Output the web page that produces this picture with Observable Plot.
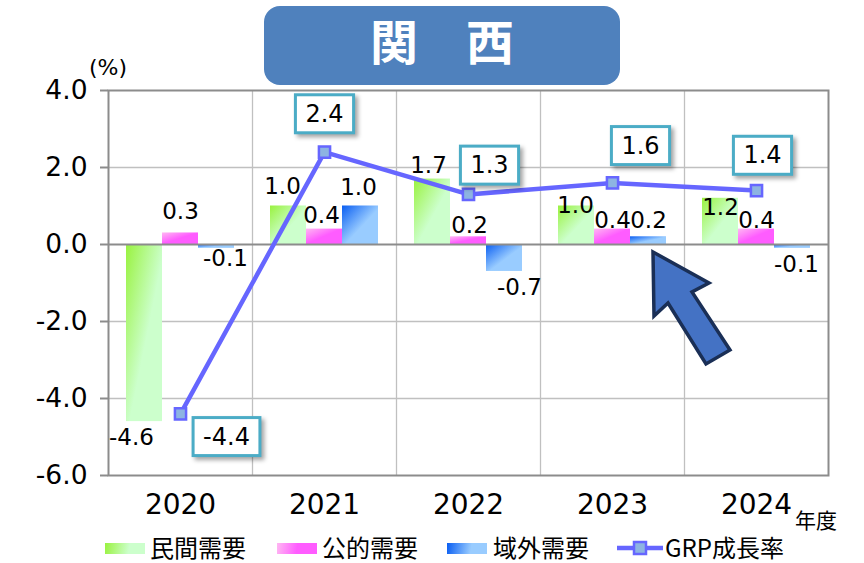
<!DOCTYPE html>
<html><head><meta charset="utf-8">
<script src="https://cdn.jsdelivr.net/npm/d3@7"></script>
<script src="https://cdn.jsdelivr.net/npm/@observablehq/plot@0.6"></script>
<style>
html,body{margin:0;background:#fff;overflow:hidden;}
#wrap{position:relative;width:864px;height:563px;font-family:"DejaVu Sans",sans-serif;color:#000;}
#chart{position:absolute;left:0;top:0;}
#title{position:absolute;left:264px;top:6px;width:356px;height:79px;border-radius:16px;background:#4f81bd;color:#fff;
 font-family:"Noto Sans CJK JP",sans-serif;font-weight:700;font-size:48px;line-height:66px;text-align:center;}
#unit{position:absolute;left:89px;top:54px;font-size:22px;line-height:28px;}
#nendo{position:absolute;left:795px;top:504px;font-size:21px;line-height:30px;font-family:"Noto Sans CJK JP",sans-serif;}
#legend{position:absolute;left:0;top:531px;width:864px;height:32px;}
.lg{position:absolute;top:0;font-size:24px;line-height:32px;font-family:"Noto Sans CJK JP",sans-serif;white-space:nowrap;}
.sw{position:absolute;top:12px;height:11px;width:40px;}
#arrow{position:absolute;left:0;top:0;pointer-events:none;}
</style></head><body>
<svg width="0" height="0" style="position:absolute">
 <defs>
  <linearGradient id="grad0" x1="0" y1="0" x2="1" y2="1">
   <stop offset="0" stop-color="#99f23f"/><stop offset="0.55" stop-color="#ccffcc"/><stop offset="1" stop-color="#ccffcc"/>
  </linearGradient>
  <linearGradient id="grad1" x1="0" y1="0" x2="1" y2="1">
   <stop offset="0" stop-color="#ffb8f2"/><stop offset="0.5" stop-color="#ff5cff"/><stop offset="1" stop-color="#ff5cff"/>
  </linearGradient>
  <linearGradient id="grad2" x1="0" y1="0" x2="1" y2="1">
   <stop offset="0" stop-color="#0a5ef2"/><stop offset="0.55" stop-color="#99ccff"/><stop offset="1" stop-color="#99ccff"/>
  </linearGradient>
 </defs>
</svg>
<div id="wrap">
 <div id="chart"></div>
 <div id="title">関　西</div>
 <div id="unit">(%)</div>
 <div id="nendo">年度</div>
 <div id="legend"></div>
 <svg id="arrow" width="864" height="563">
  <polygon points="653,252 709,283 692,292 730,350 706,364 668,303 654,316" fill="#4472c4" stroke="#1a2f56" stroke-width="3.5" stroke-linejoin="miter"/>
 </svg>
</div>
<script>
// ---- data ----
const years = ["2020", "2021", "2022", "2023", "2024"];
const seriesNames = ["民間需要", "公的需要", "域外需要"];
const privateDemand = [-4.6, 1.0, 1.7, 1.0, 1.2];
const publicDemand = [0.3, 0.4, 0.2, 0.4, 0.4];
const externalDemand = [-0.1, 1.0, -0.7, 0.2, -0.1];
const grpGrowth = [-4.4, 2.4, 1.3, 1.6, 1.4];
const lineName = "GRP成長率";
const yTicks = [-6, -4, -2, 0, 2, 4];

// ---- layout ----
const W = 864, H = 530, mL = 108, mR = 36, mT = 90, mB = 55;
const bw = (W - mL - mR) / years.length;
const sOff = [-bw / 4, 0, bw / 4];
const inset = 3 * bw / 8;
const fills = ["url(#grad0)", "url(#grad1)", "url(#grad2)"];
const GRP_TEXT = "#010101";
// label nudges: [dx, distance of label centre from bar end]
const barLabelNudge = [
  [[-13, 16], [0, 21], [9, 10]],
  [[-6, 19], [-3, 13], [-2, 18]],
  [[-4, 13], [1, 11], [15, 16]],
  [[-1, 0], [0, 8], [0, 16]],
  [[0, -9], [0, 8], [4, 16]]
];
const grpLabelNudge = [[46, 23], [0, -38], [21, -29], [28, -37], [6, -35]];

const seriesValues = [privateDemand, publicDemand, externalDemand];
const barTable = years.flatMap((y, i) => seriesValues.map((vals, j) => ({year: y, s: j, name: seriesNames[j], v: vals[i]})));
const grpTable = years.map((y, i) => ({year: y, v: grpGrowth[i]}));

const marks = [
  Plot.ruleY(yTicks.filter(t => t !== 0 && t !== yTicks[0] && t !== yTicks[yTicks.length - 1]), {stroke: "#c0c0c0", strokeWidth: 1.3}),
  Plot.ruleX(years.slice(1), {x: d => d, dx: -bw / 2, stroke: "#c0c0c0", strokeWidth: 1.3}),
];
seriesNames.forEach((name, j) => {
  marks.push(Plot.barY(barTable.filter(d => d.s === j), {
    x: "year", y1: () => 0, y2: "v", fill: fills[j], dx: sOff[j], insetLeft: inset, insetRight: inset
  }));
});
marks.push(
  Plot.ruleY([0], {stroke: "#8c8c8c", strokeWidth: 2}),
  Plot.frame({stroke: "#8c8c8c", strokeWidth: 2}),
  Plot.axisY({ticks: yTicks, tickFormat: d => d.toFixed(1), tickSize: 8, tickPadding: 13, fontSize: 26.5, stroke: "#8c8c8c", strokeWidth: 2, fill: "#000", label: null}),
  Plot.axisX({tickSize: 0, tickPadding: 19, fontSize: 28, fill: "#000", label: null})
);
barTable.forEach(d => {
  const i = years.indexOf(d.year);
  const [ndx, gap] = barLabelNudge[i][d.s];
  marks.push(Plot.text([d], {
    x: "year", y: "v", text: r => r.v.toFixed(1), dx: sOff[d.s] + ndx, dy: d.v >= 0 ? -gap : gap,
    fontSize: 23, fill: "#000"
  }));
});
marks.push(
  Plot.line(grpTable, {x: "year", y: "v", stroke: "#6666ff", strokeWidth: 4.5}),
  Plot.dot(grpTable, {x: "year", y: "v", symbol: "square", r: 6.3, fill: "#8db4e2", stroke: "#6666ff", strokeWidth: 2.5})
);
grpTable.forEach((d, i) => {
  marks.push(Plot.text([d], {
    x: "year", y: "v", text: r => r.v.toFixed(1), dx: grpLabelNudge[i][0], dy: grpLabelNudge[i][1],
    fontSize: 24, fill: GRP_TEXT
  }));
});

const plot = Plot.plot({
  width: W, height: H, marginLeft: mL, marginRight: mR, marginTop: mT, marginBottom: mB,
  style: {fontFamily: "DejaVu Sans, sans-serif", background: "transparent", overflow: "visible"},
  x: {type: "band", domain: years, padding: 0, axis: null},
  y: {domain: [yTicks[0], yTicks[yTicks.length - 1]], axis: null},
  marks
});
document.getElementById("chart").appendChild(plot);

// boxes behind GRP labels
const svgns = "http://www.w3.org/2000/svg";
plot.querySelectorAll("text").forEach(t => {
  const f = (t.getAttribute("fill") || (t.parentNode && t.parentNode.getAttribute("fill")) || "").toLowerCase();
  if (f !== GRP_TEXT) return;
  const b = t.getBBox();
  const w = b.width + 20, h = 38;
  const r = document.createElementNS(svgns, "rect");
  r.setAttribute("x", b.x + b.width / 2 - w / 2);
  r.setAttribute("y", b.y + b.height / 2 - h / 2);
  r.setAttribute("width", w);
  r.setAttribute("height", h);
  r.setAttribute("fill", "#fff");
  r.setAttribute("stroke", "#4bacc6");
  r.setAttribute("stroke-width", 3);
  const tr = t.getAttribute("transform");
  if (tr) r.setAttribute("transform", tr);
  r.style.filter = "drop-shadow(3px 3px 2px rgba(0,0,0,0.35))";
  t.parentNode.insertBefore(r, t);
});

// legend
const legend = document.getElementById("legend");
const cssGrad = [
  "linear-gradient(100deg,#99f23f 0%,#ccffcc 60%,#ccffcc 100%)",
  "linear-gradient(100deg,#ffb8f2 0%,#ff5cff 50%,#ff5cff 100%)",
  "linear-gradient(100deg,#0a5ef2 0%,#99ccff 60%,#99ccff 100%)"
];
const swX = [105, 277, 447];
const txX = [150, 322, 493];
seriesNames.forEach((name, j) => {
  const s = document.createElement("div");
  s.className = "sw"; s.style.left = swX[j] + "px"; s.style.background = cssGrad[j];
  legend.appendChild(s);
  const t = document.createElement("div");
  t.className = "lg"; t.style.left = txX[j] + "px"; t.textContent = name;
  legend.appendChild(t);
});
const lm = document.createElementNS(svgns, "svg");
lm.setAttribute("width", 46); lm.setAttribute("height", 20);
lm.style.position = "absolute"; lm.style.left = "617px"; lm.style.top = "7px";
lm.innerHTML = '<line x1="0" y1="10" x2="46" y2="10" stroke="#6666ff" stroke-width="4.5"/><rect x="17" y="4" width="12" height="12" fill="#8db4e2" stroke="#6666ff" stroke-width="2.5"/>';
legend.appendChild(lm);
const lt = document.createElement("div");
lt.className = "lg"; lt.style.left = "665px"; lt.textContent = lineName;
legend.appendChild(lt);
</script>
</body></html>
